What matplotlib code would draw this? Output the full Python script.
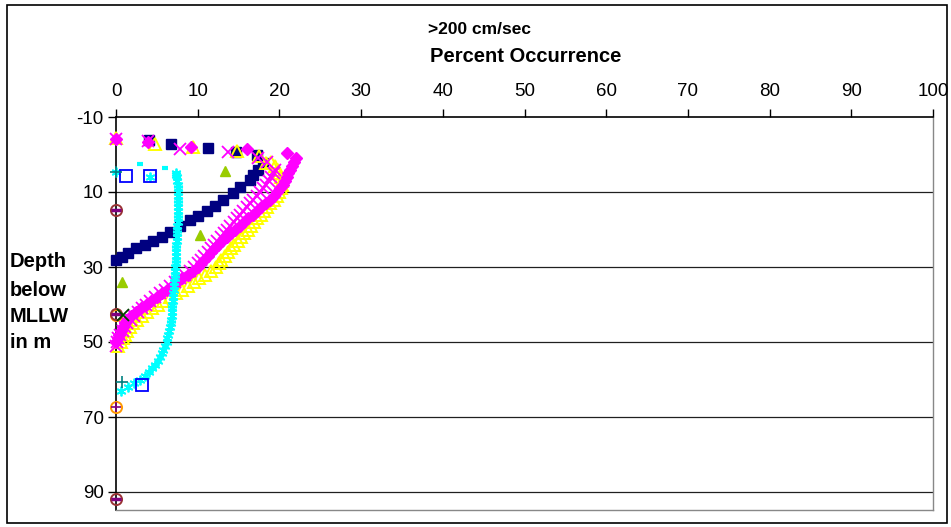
import matplotlib
matplotlib.use("Agg")
import matplotlib.pyplot as plt
from matplotlib.patches import Rectangle

plt.rcParams['font.family'] = ['Liberation Sans', 'DejaVu Sans']
plt.rcParams['axes.unicode_minus'] = False

# ---- data (percent occurrence, depth in m) ----
navy_x = [4.0, 6.7, 11.3, 14.7, 17.2, 18.0, 17.4, 16.8, 16.4, 15.2, 14.3, 13.1, 12.1, 11.1,
          10.0, 9.0, 7.8, 6.6, 5.6, 4.5, 3.5, 2.5, 1.5, 0.7, 0.0]
navy_d = [-3.9, -2.8, -1.7, -0.7, 0.1, 2.3, 4.1, 5.5, 6.8, 8.7, 10.3, 12.1, 13.6, 15.0,
          16.4, 17.5, 19.0, 20.7, 22.0, 23.0, 24.1, 25.0, 26.3, 27.3, 28.1]

diam_x = [0.0, 3.9, 9.2, 16.0, 20.9, 22.0,
          21.8, 21.5, 21.3, 21.1, 20.9, 20.7, 20.4, 20.1, 19.7, 19.3, 18.8, 18.3, 17.8, 17.3,
          16.8, 16.2, 15.7, 15.2, 14.6, 14.1, 13.6, 13.0, 12.5, 12.1, 11.6, 11.2, 10.8, 10.4,
          10.0, 9.4, 8.8, 8.1, 7.5, 6.8, 6.2, 5.6, 5.0, 4.3, 3.7, 3.1, 2.4, 1.8, 1.4, 1.1,
          0.8, 0.6, 0.4, 0.2, 0.0]
diam_d = [-4.1, -3.3, -2.0, -1.5, -0.4, 0.9,
          2, 3, 4, 5, 6, 7, 8, 9, 10, 11, 12, 13, 14, 15,
          16, 17, 18, 19, 20, 21, 22, 23, 24, 25, 26, 27, 28, 29,
          30, 31, 32, 33, 34, 35, 36, 37, 38, 39, 40, 41, 42, 43, 44, 45,
          46, 47, 48, 49, 50]

yel_x = [0.0, 4.8, 9.4, 14.8, 17.5, 18.3,
         19.0, 19.5, 19.8, 20.0, 20.2, 20.3, 20.3, 20.2, 20.0, 19.7, 19.3, 18.9, 18.5, 18.1,
         17.7, 17.3, 16.9, 16.5, 16.1, 15.7, 15.3, 14.9, 14.5, 14.1, 13.7, 13.3, 12.9, 12.6,
         12.2, 11.6, 10.9, 10.2, 9.5, 8.8, 8.1, 7.4, 6.6, 5.8, 5.1, 4.4, 3.8, 3.2, 2.6, 2.1,
         1.7, 1.4, 1.1, 0.8, 0.6, 0.3]
yel_d = [-4.3, -2.8, -2.0, -0.9, 0.5, 2.2,
         2, 3, 4, 5, 6, 7, 8, 9, 10, 11, 12, 13, 14, 15,
         16, 17, 18, 19, 20, 21, 22, 23, 24, 25, 26, 27, 28, 29,
         30, 31, 32, 33, 34, 35, 36, 37, 38, 39, 40, 41, 42, 43, 44, 45,
         46, 47, 48, 49, 50, 51]

magx_x = [0.0, 3.9, 7.8, 13.7, 17.4, 18.5,
          19.5, 19.3, 19.0, 18.7, 18.4, 18.0, 17.6, 17.2, 16.8, 16.4, 16.0, 15.6, 15.2, 14.8,
          14.4, 14.0, 13.6, 13.2, 12.8, 12.4, 12.0, 11.6, 11.2, 10.8, 10.4, 10.0, 9.6, 9.0,
          8.4, 7.8, 7.2, 6.6, 6.0, 5.4, 4.8, 4.2, 3.7, 3.2, 2.7, 2.2, 1.8, 1.4, 1.1, 0.8,
          0.5, 0.3, 0.1, 0.0]
magx_d = [-4.1, -3.5, -1.5, -0.7, 0.8, 2.0,
          4, 5, 6, 7, 8, 9, 10, 11, 12, 13, 14, 15, 16, 17,
          18, 19, 20, 21, 22, 23, 24, 25, 26, 27, 28, 29, 30, 31,
          32, 33, 34, 35, 36, 37, 38, 39, 40, 41, 42, 43, 44, 45, 46, 47,
          48, 49, 50, 51]

cyan_x = [0.0, 4.2, 7.3,
          7.4, 7.5, 7.5, 7.6, 7.6, 7.6, 7.6, 7.6, 7.6, 7.6, 7.6, 7.6, 7.6, 7.6, 7.5, 7.5,
          7.5, 7.5, 7.5, 7.4, 7.4, 7.4, 7.3, 7.3, 7.3, 7.2, 7.2, 7.2, 7.2, 7.1, 7.1, 7.1,
          7.0, 7.0, 7.0, 6.9, 6.9, 6.8, 6.8, 6.7, 6.7, 6.6, 6.5, 6.4, 6.3, 6.2, 6.0, 5.8,
          5.6, 5.4, 5.1, 4.8, 4.4, 4.0, 3.5, 2.9, 2.2, 1.5, 0.6]
cyan_d = [4.7, 6.0, 5.5,
          5, 6, 7, 8, 9, 10, 11, 12, 13, 14, 15, 16, 17, 18, 19, 20,
          21, 22, 23, 24, 25, 26, 27, 28, 29, 30, 31, 32, 33, 34, 35, 36,
          37, 38, 39, 40, 41, 42, 43, 44, 45, 46, 47, 48, 49, 50, 51, 52,
          53, 54, 55, 56, 57, 58, 59, 60, 61, 62, 63]

green_x = [13.3, 10.3, 0.7]
green_d = [4.4, 21.5, 34.0]

navytri_x = [14.8, 17.5]
navytri_d = [-0.9, 0.5]

bsq_x = [1.2, 4.2, 3.2]
bsq_d = [5.6, 5.6, 61.5]

cdash_x = [2.9, 6.0]
cdash_d = [2.5, 3.6]

teal_x = [0.7, 0.0]
teal_d = [60.7, 4.7]

redc_x = [0.0, 0.0, 0.0]
redc_d = [14.8, 42.5, 91.9]

purdash_x = [0.0, 0.0, 0.0]
purdash_d = [14.8, 42.5, 91.9]

orc_x = [0.0, 0.0]
orc_d = [67.3, 42.8]

purplus_x = [0.0]
purplus_d = [67.3]

dkx_x = [0.9]
dkx_d = [42.8]

xticks = list(range(0, 101, 10))
yticks = [-10, 10, 30, 50, 70, 90]

W, H = 951, 527
fig = plt.figure(figsize=(W / 100, H / 100), dpi=100)
ax = fig.add_axes([116 / W, 1 - 510 / H, (933 - 116) / W, (510 - 117) / H])

ax.set_xlim(0, 100)
ax.set_ylim(94.8, -10)

for y in yticks[1:]:
    ax.axhline(y, color='#202020', lw=0.9, zorder=1)

kw = dict(ls='none', clip_on=False)
ax.plot(navy_x, navy_d, 's', color='#000080', ms=7, zorder=3, **kw)
ax.plot(navytri_x, navytri_d, '^', color='#000080', ms=7, zorder=3, **kw)
ax.plot(yel_x, yel_d, '^', mfc='none', mec='#FFFF00', mew=1.4, ms=8, zorder=4, **kw)
ax.plot(diam_x, diam_d, 'D', color='#FF00FF', ms=6.5, zorder=5, **kw)
ax.plot(magx_x, magx_d, 'x', color='#FF00FF', mew=1.3, ms=8.5, zorder=6, **kw)
ax.plot(cyan_x, cyan_d, marker=(6, 2, 0), color='#00FFFF', mew=1.3, ms=7, zorder=7, **kw)
ax.plot(green_x, green_d, '^', color='#99CC00', ms=7.5, zorder=7, **kw)
ax.plot(bsq_x, bsq_d, 's', mfc='none', mec='#0000FF', mew=1.3, ms=8.5, zorder=8, **kw)
ax.plot(cdash_x, cdash_d, '_', color='#00FFFF', mew=3, ms=5, zorder=8, **kw)
ax.plot(teal_x, teal_d, '+', color='#008080', mew=1.2, ms=9, zorder=8, **kw)
ax.plot(orc_x, orc_d, 'o', mfc='none', mec='#FF9900', mew=1.4, ms=8, zorder=8, **kw)
ax.plot(redc_x, redc_d, 'o', mfc='none', mec='#993333', mew=1.4, ms=8, zorder=9, **kw)
ax.plot(purdash_x, purdash_d, '_', color='#800080', mew=2.5, ms=7, zorder=9, **kw)
ax.plot(purplus_x, purplus_d, '+', color='#800080', mew=1.2, ms=7, zorder=9, **kw)
ax.plot(dkx_x, dkx_d, 'x', color='#004000', mew=1.3, ms=8, zorder=9, **kw)

# axes: x on top, y on left; plot area border gray
ax.xaxis.tick_top()
ax.set_xticks(xticks)
ax.set_yticks(yticks)
ax.tick_params(axis='x', direction='out', length=6, width=1, pad=6, labelsize=13.5)
ax.tick_params(axis='y', direction='out', length=6, width=1, pad=3, labelsize=13.5)
for s in ['right', 'bottom']:
    ax.spines[s].set_color('#888888')
    ax.spines[s].set_linewidth(1)
for s in ['top', 'left']:
    ax.spines[s].set_color('black')
    ax.spines[s].set_linewidth(1.2)

fig.text(480 / W, 1 - 30 / H, '>200 cm/sec', ha='center', va='center',
         fontsize=12.5, fontweight='bold')
fig.text(526 / W, 1 - 57 / H, 'Percent Occurrence', ha='center', va='center',
         fontsize=14.5, fontweight='bold')

for lab, yy in zip(['Depth', 'below', 'MLLW', 'in m'], [262, 290, 316, 343]):
    fig.text(10 / W, 1 - yy / H, lab, ha='left', va='center', fontsize=14.5, fontweight='bold')

fig.add_artist(Rectangle((7 / W, 1 - 523 / H), (947 - 7) / W, (523 - 5) / H,
                         transform=fig.transFigure, fill=False, ec='black', lw=1.2))

fig.savefig('out.png', dpi=100)
